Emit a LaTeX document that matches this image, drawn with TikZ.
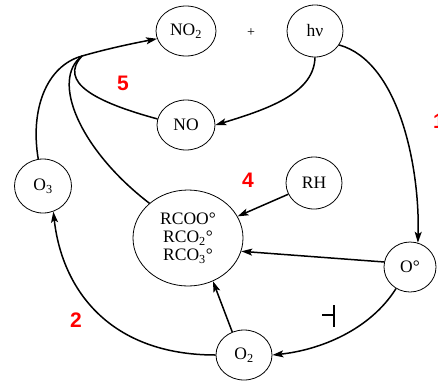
\documentclass[tikz,border=0pt]{standalone}
\usepackage{fontspec}
\setmainfont{Liberation Serif}
\newfontfamily\numfont{Liberation Sans}
\usetikzlibrary{shapes.geometric,arrows.meta}
\tikzset{
  el/.style={ellipse, draw, line width=0.8pt, inner sep=0pt, font=\fontsize{17.5}{20}\selectfont},
  conn/.style={line width=1.5pt},
  arr/.style={conn, -{Stealth[length=11pt,width=7pt,inset=2.5pt]}},
  rednum/.style={text=red, font=\numfont\bfseries\fontsize{21}{24}\selectfont, inner sep=0pt}
}
\begin{document}
\begin{tikzpicture}[x=1pt,y=-1pt]
\useasboundingbox (0,0) rectangle (438,381);
% nodes
\node[el, minimum width=60pt, minimum height=50pt] (NO2) at (186,31) {NO\textsubscript{2}};
\node[el, minimum width=56pt, minimum height=52pt] (hv) at (315,31) {hν};
\node[font=\fontsize{14}{16}\selectfont, inner sep=0pt] (plus) at (251,33) {+};
\node[el, minimum width=58pt, minimum height=50pt] (NO) at (186,125) {NO};
\node[el, minimum width=57pt, minimum height=54pt] (O3) at (43,186) {O\textsubscript{3}};
\node[el, minimum width=110pt, minimum height=96pt, align=center] (R) at (188,238)
  {RCOO°\\[-2pt] RCO\textsubscript{2}°\\[-2pt] RCO\textsubscript{3}°};
\node[el, minimum width=56pt, minimum height=52pt] (RH) at (314,183) {RH};
\node[el, minimum width=52pt, minimum height=50pt] (Oo) at (410,267) {O°};
\node[el, minimum width=56pt, minimum height=50pt] (O2) at (244,355) {O\textsubscript{2}};
% red labels
\node[rednum] (n5) at (123,83) {5};
\node[rednum] (n4) at (248,180) {4};
\node[rednum] (n2) at (76,320) {2};
\node[rednum, anchor=base west] (n1) at (433,128) {1};
% junction
\coordinate (J) at (82,56);
\draw[arr] (J) .. controls (110,48) and (135,43) .. (NO2.195);
\draw[conn] (O3.100) .. controls (30,110) and (46,66) .. (J);
\draw[conn] (R.138) .. controls (80,150) and (50,80) .. (J);
\draw[conn] (NO.168) .. controls (95,102) and (58,82) .. (J);
% other connectors
\draw[arr] (hv.south) .. controls (314,92) and (272,108) .. (NO.east);
\draw[arr] (hv.-30) .. controls (400,62) and (420,170) .. (Oo.72);
\draw[arr] (RH) -- (R);
\draw[arr] (Oo.169) -- (R.-14);
\draw[arr] (O2.117) -- (R.-60);
\draw[arr] (O2.west) .. controls (110,355) and (62,290) .. (O3.-68);
\draw[arr] (Oo.-123) .. controls (370,330) and (320,350) .. (O2.east);
% inhibition mark
\draw[line width=1.3pt] (322,315) -- (334,315);
\draw[line width=1.3pt] (334,305) -- (334,327);
\end{tikzpicture}
\end{document}
